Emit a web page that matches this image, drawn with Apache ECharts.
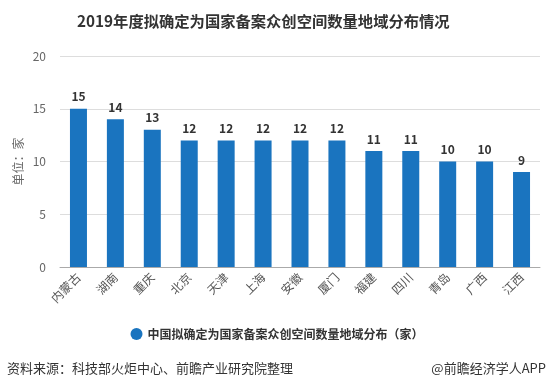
<!DOCTYPE html>
<html><head><meta charset="utf-8">
<script src="https://cdn.jsdelivr.net/npm/echarts@6/dist/echarts.min.js"></script>
<style>html,body{margin:0;padding:0;background:#fff}#c{width:554px;height:390px}</style>
</head><body><div id="c"></div>
<script>
const categories = ['内蒙古','湖南','重庆','北京','天津','上海','安徽','厦门','福建','四川','青岛','广西','江西'];
const values = [15,14,13,12,12,12,12,12,11,11,10,10,9];
const seriesName = '中国拟确定为国家备案众创空间数量地域分布（家）';
const titleText = '2019年度拟确定为国家备案众创空间数量地域分布情况';
const sourceText = '资料来源：科技部火炬中心、前瞻产业研究院整理';
const brandText = '@前瞻经济学人APP';
const yTicks = {min:0, max:20, interval:5};

const chart = echarts.init(document.getElementById('c'), null, {renderer:'canvas'});
const font = '"Noto Sans CJK SC", "Microsoft YaHei", sans-serif';
chart.setOption({
  animation:false,
  textStyle:{fontFamily:font},
  title:{text:titleText, left:72, top:9,
    textStyle:{fontSize:15.3, fontWeight:'bold', color:'#333', fontFamily:font}},
  graphic:[
    {type:'text', left:7, top:362, style:{text:sourceText, font:'13px '+font, fill:'#333'}},
    {type:'text', right:8, top:362, style:{text:brandText, font:'13px '+font, fill:'#333'}}
  ],
  legend:{bottom:45, left:'center', icon:'circle', itemWidth:12, itemHeight:12,
    textStyle:{fontSize:12, color:'#333', fontWeight:'bold'}, data:[seriesName]},
  grid:{left:60, right:14, top:56, bottom:123},
  xAxis:{type:'category', data:categories,
    axisLine:{lineStyle:{color:'#aaa'}},
    axisTick:{alignWithLabel:true, length:5, lineStyle:{color:'#aaa'}},
    axisLabel:{rotate:45, fontSize:12, color:'#555', margin:8, interval:0}},
  yAxis:{type:'value', min:yTicks.min, max:yTicks.max, interval:yTicks.interval,
    name:'单位：家', nameLocation:'middle', nameGap:36, nameMoveOverlap:false,
    nameTextStyle:{fontSize:12, color:'#666'},
    axisLine:{show:false}, axisTick:{show:false},
    axisLabel:{fontSize:12, color:'#666', margin:14},
    splitLine:{lineStyle:{color:'#ddd'}}},
  series:[{name:seriesName, type:'bar', data:values, barWidth:17,
    itemStyle:{color:'#1a74bf'},
    label:{show:true, position:'top', fontSize:12, fontWeight:'bold', color:'#333', distance:6}}]
});
</script></body></html>
